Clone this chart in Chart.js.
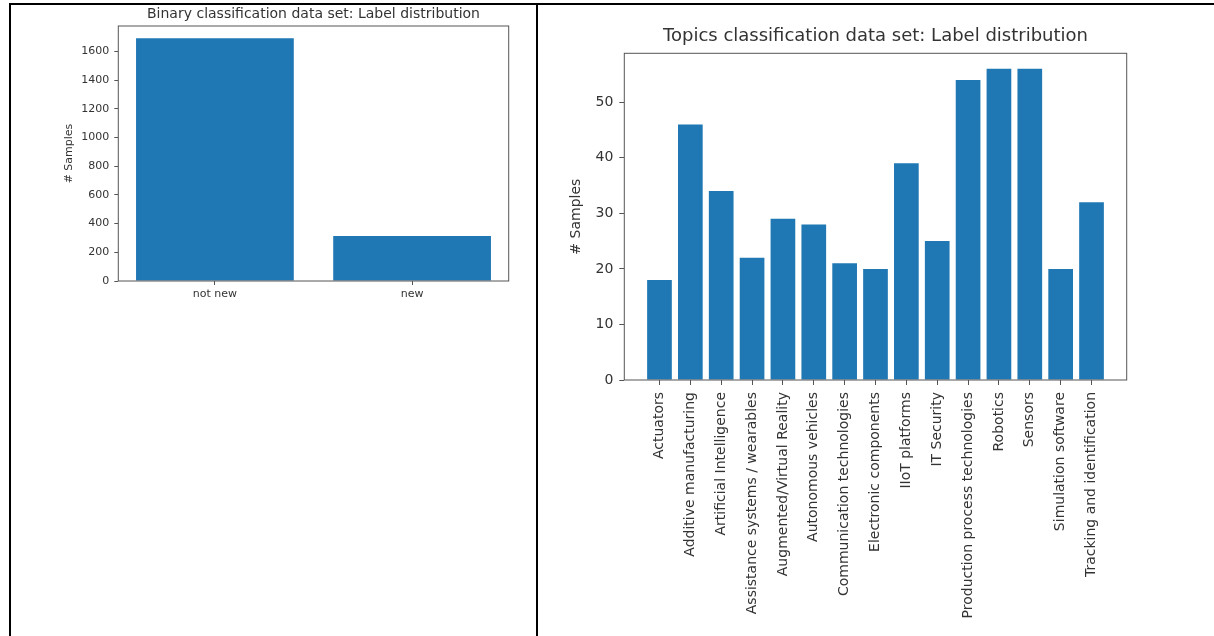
<!DOCTYPE html>
<html>
<head>
<meta charset="utf-8">
<script src="https://cdn.jsdelivr.net/npm/chart.js@4.4.1/dist/chart.umd.min.js"></script>
<style>
  html, body { margin: 0; padding: 0; background: #fff; overflow: hidden; }
  body { width: 1214px; height: 636px; position: relative; }
  canvas { position: absolute; top: 0; }
  #binary-chart { left: 0; }
  #topics-chart { left: 538px; }
  .rule { position: absolute; background: #000; }
</style>
</head>
<body>
<canvas id="binary-chart" width="537" height="330"></canvas>
<canvas id="topics-chart" width="676" height="636"></canvas>
<div class="rule" style="left:9px;top:3px;width:1205px;height:2px"></div>
<div class="rule" style="left:9px;top:3px;width:2px;height:633px"></div>
<div class="rule" style="left:536px;top:3px;width:2px;height:633px"></div>
<script>
const binaryLabels = ["not new", "new"];
const binaryCounts = [1692, 314];
const binaryYTicks = [0, 200, 400, 600, 800, 1000, 1200, 1400, 1600];
const binaryYMax = 1777;

const topicLabels = [
  "Actuators",
  "Additive manufacturing",
  "Artificial Intelligence",
  "Assistance systems / wearables",
  "Augmented/Virtual Reality",
  "Autonomous vehicles",
  "Communication technologies",
  "Electronic components",
  "IIoT platforms",
  "IT Security",
  "Production process technologies",
  "Robotics",
  "Sensors",
  "Simulation software",
  "Tracking and identification",
];
const topicCounts = [18, 46, 34, 22, 29, 28, 21, 20, 39, 25, 54, 56, 56, 20, 32];
const topicYTicks = [0, 10, 20, 30, 40, 50];
const topicYMax = 58.8;

const FONT = "'DejaVu Sans', sans-serif";
const TEXT = "#333";
const SPINE = "#555";
const BAR = "#1f77b4";

// matplotlib style box around the plot area
const axesBox = {
  id: "axesBox",
  afterDatasetsDraw(chart) {
    const { ctx, chartArea: a } = chart;
    ctx.save();
    ctx.strokeStyle = SPINE;
    ctx.lineWidth = 1;
    ctx.strokeRect(a.left, a.top, a.right - a.left, a.bottom - a.top);
    ctx.restore();
  },
};

function barChart(canvas, cfg) {
  // matplotlib puts a 5% margin around the bars: -0.4 .. n-0.6
  const span = cfg.labels.length - 1 + 0.8;
  const margin = span * 0.05;
  return new Chart(canvas.getContext("2d"), {
    type: "bar",
    data: {
      datasets: [
        {
          data: cfg.values.map((v, i) => ({ x: i, y: v })),
          backgroundColor: BAR,
          borderWidth: 0,
          categoryPercentage: 1,
          barPercentage: 0.8,
        },
      ],
    },
    plugins: [axesBox],
    options: {
      responsive: false,
      animation: false,
      devicePixelRatio: 1,
      layout: { padding: cfg.padding },
      plugins: {
        legend: { display: false },
        tooltip: { enabled: false },
        title: {
          display: true,
          text: cfg.title,
          color: TEXT,
          fullSize: false,
          font: { family: FONT, size: cfg.titleSize, weight: "normal", lineHeight: 1.2 },
          padding: cfg.titlePadding,
        },
      },
      scales: {
        x: {
          type: "linear",
          offset: false,
          min: -0.4 - margin,
          max: cfg.labels.length - 0.6 + margin,
          afterBuildTicks: (s) => {
            s.ticks = cfg.labels.map((_, i) => ({ value: i }));
          },
          afterFit: (s) => {
            s.height = cfg.xHeight;
          },
          grid: { offset: false, drawOnChartArea: false, color: SPINE, tickLength: cfg.tickLen },
          border: { display: false },
          ticks: {
            color: TEXT,
            font: { family: FONT, size: cfg.tickSize },
            padding: cfg.xPad,
            autoSkip: false,
            minRotation: cfg.rotation,
            maxRotation: cfg.rotation,
            callback: (v) => cfg.labels[v],
          },
        },
        y: {
          min: 0,
          max: cfg.yMax,
          afterBuildTicks: (s) => {
            s.ticks = cfg.yTicks.map((v) => ({ value: v }));
          },
          afterFit: (s) => {
            s.width = cfg.yWidth;
          },
          grid: { drawOnChartArea: false, color: SPINE, tickLength: cfg.tickLen },
          border: { display: false },
          ticks: {
            color: TEXT,
            font: { family: FONT, size: cfg.tickSize },
            padding: cfg.yPad,
            callback: (v) => String(v),
          },
          title: {
            display: true,
            text: "# Samples",
            color: TEXT,
            font: { family: FONT, size: cfg.tickSize, lineHeight: 1.2 },
            padding: { top: cfg.yTitlePad, bottom: 0 },
          },
        },
      },
    },
  });
}

barChart(document.getElementById("binary-chart"), {
  labels: binaryLabels,
  values: binaryCounts,
  yTicks: binaryYTicks,
  yMax: binaryYMax,
  title: "Binary classification data set: Label distribution",
  titleSize: 14,
  titlePadding: { top: 5.6, bottom: 3.6 },
  tickSize: 11,
  tickLen: 4,
  xPad: 3,
  yPad: 5,
  rotation: 0,
  xHeight: 30,
  yWidth: 68.3,
  yTitlePad: 12.7,
  padding: { left: 50, right: 28.3, top: 0, bottom: 19 },
});

barChart(document.getElementById("topics-chart"), {
  labels: topicLabels,
  values: topicCounts,
  yTicks: topicYTicks,
  yMax: topicYMax,
  title: "Topics classification data set: Label distribution",
  titleSize: 18,
  titlePadding: { top: 25.7, bottom: 6 },
  tickSize: 14,
  tickLen: 5,
  xPad: 7,
  yPad: 6,
  rotation: 90,
  xHeight: 250,
  yWidth: 76.3,
  yTitlePad: 20.3,
  padding: { left: 10, right: 87.3, top: 0, bottom: 6 },
});
</script>
</body>
</html>
